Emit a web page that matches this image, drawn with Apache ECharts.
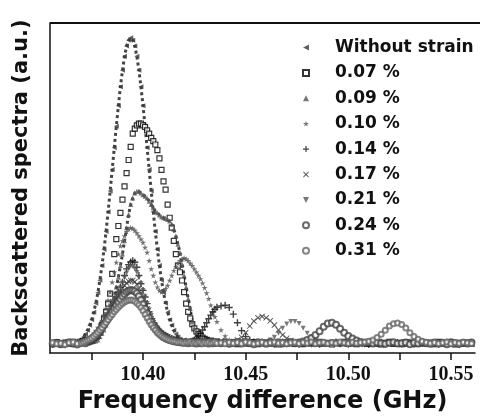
<!DOCTYPE html>
<html><head><meta charset="utf-8">
<script src="https://cdn.jsdelivr.net/npm/echarts@6/dist/echarts.min.js"></script>
<style>html,body{margin:0;padding:0;background:#fff}#c{width:480px;height:419px}</style>
</head><body><div id="c"></div>
<script>
// sampling frequencies (GHz)
const freqs = [
10.356,10.358,10.360,10.362,10.364,10.366,10.368,
10.370,10.371,10.372,10.373,10.374,10.375,10.376,10.377,10.378,10.379,
10.380,10.381,10.382,10.383,10.384,10.385,10.386,10.387,10.388,10.389,
10.390,10.391,10.392,10.393,10.394,10.395,10.396,10.397,10.398,10.399,
10.400,10.401,10.402,10.403,10.404,10.405,10.406,10.407,10.408,10.409,
10.410,10.411,10.412,10.413,10.414,10.415,10.416,10.417,10.418,10.419,
10.420,10.421,10.422,10.423,10.424,10.425,10.426,10.427,10.428,10.429,
10.430,10.431,10.432,10.433,10.434,10.435,10.436,
10.438,10.440,10.442,10.444,10.446,10.448,10.450,10.452,10.454,10.456,
10.458,10.460,10.462,10.464,10.466,10.468,10.470,10.472,10.474,10.476,
10.478,10.480,10.482,10.484,10.486,10.488,10.490,10.492,10.494,10.496,
10.498,10.500,10.502,10.504,10.506,10.508,10.510,10.512,10.514,10.516,
10.518,10.520,10.522,10.524,10.526,10.528,10.530,10.532,10.534,10.536,
10.538,10.540,10.542,10.544,10.546,10.548,10.550,10.552,10.554,10.556,
10.558,10.560];

const seriesNames = ['Without strain','0.07 %','0.09 %','0.10 %','0.14 %','0.17 %','0.21 %','0.24 %','0.31 %'];

const sWithout = [
.030,.026,.034,.028,.032,.027,.031,
.043,.049,.058,.069,.084,.101,.124,.151,.183,.221,
.265,.314,.368,.428,.491,.556,.622,.687,.749,.807,
.857,.899,.930,.948,.955,.948,.930,.899,.857,.807,
.749,.687,.622,.556,.491,.428,.368,.314,.265,.221,
.183,.151,.124,.101,.084,.069,.058,.049,.043,.037,
.033,.030,.028,.031,.026,.029,.032,.027,.030,.025,
.029,.033,.027,.031,.026,.030,.028,
.032,.027,.030,.025,.029,.033,.028,.031,.026,.030,
.027,.032,.029,.025,.031,.028,.033,.026,.030,.027,
.031,.026,.029,.033,.027,.030,.025,.032,.028,.031,
.026,.030,.027,.032,.029,.025,.031,.028,.033,.027,
.030,.026,.031,.028,.032,.027,.029,.025,.031,.028,
.033,.027,.030,.026,.032,.029,.025,.031,.028,.030,
.027,.031];

const s007 = [
.028,.033,.026,.031,.029,.034,.030,
.035,.036,.038,.040,.041,.043,.045,.048,.052,.062,
.085,.105,.125,.150,.180,.240,.300,.345,.385,.425,
.465,.505,.545,.585,.625,.665,.680,.690,.695,.695,
.690,.685,.675,.665,.652,.642,.632,.615,.590,.555,
.520,.495,.450,.410,.380,.340,.300,.265,.245,.220,
.185,.150,.125,.105,.088,.075,.066,.058,.052,.047,
.043,.040,.036,.038,.034,.032,.035,
.030,.034,.028,.032,.027,.031,.035,.029,.033,.027,
.031,.028,.034,.030,.026,.032,.029,.033,.028,.031,
.027,.033,.030,.028,.034,.029,.031,.026,.032,.030,
.034,.028,.031,.027,.033,.030,.028,.032,.029,.026,
.031,.034,.028,.030,.027,.033,.029,.032,.028,.031,
.029,.032,.027,.034,.030,.028,.033,.026,.031,.029,
.032,.028];

const s009 = [
.025,.030,.027,.032,.028,.026,.031,
.029,.031,.030,.033,.032,.034,.035,.037,.040,.050,
.060,.070,.085,.100,.120,.145,.170,.200,.230,.265,
.300,.340,.380,.420,.450,.470,.485,.490,.490,.485,
.480,.475,.470,.460,.450,.440,.430,.425,.418,.413,
.410,.408,.405,.400,.390,.375,.355,.330,.305,.270,
.235,.200,.165,.135,.095,.075,.062,.052,.045,.040,
.036,.033,.030,.028,.031,.027,.029,
.033,.028,.031,.026,.030,.034,.027,.032,.029,.031,
.028,.033,.026,.030,.032,.027,.031,.029,.034,.028,
.030,.027,.032,.029,.026,.031,.033,.028,.030,.027,
.032,.029,.026,.031,.028,.033,.030,.027,.031,.029,
.028,.031,.033,.027,.030,.026,.032,.029,.031,.028,
.030,.033,.028,.031,.027,.030,.032,.028,.029,.031,
.028,.030];

const s010 = [
.031,.027,.029,.033,.026,.030,.028,
.032,.030,.034,.031,.035,.038,.045,.055,.065,.080,
.095,.115,.135,.160,.185,.215,.245,.275,.300,.325,
.340,.355,.368,.376,.380,.378,.372,.364,.355,.345,
.335,.320,.305,.280,.255,.235,.215,.200,.190,.185,
.188,.195,.205,.220,.235,.250,.262,.272,.280,.285,
.288,.285,.280,.272,.265,.255,.245,.235,.225,.212,
.198,.182,.165,.145,.125,.110,.095,
.070,.052,.040,.034,.030,.033,.028,.031,.027,.032,
.029,.031,.027,.033,.030,.028,.032,.026,.031,.029,
.033,.028,.031,.027,.030,.032,.029,.031,.026,.030,
.029,.032,.028,.030,.026,.031,.033,.029,.027,.031,
.032,.027,.030,.033,.029,.031,.028,.026,.032,.030,
.028,.031,.029,.026,.033,.030,.027,.031,.029,.032,
.030,.027];

const s014 = [
.027,.032,.029,.025,.031,.028,.033,
.030,.033,.031,.035,.034,.037,.040,.048,.055,.065,
.075,.085,.095,.110,.125,.140,.155,.170,.185,.200,
.215,.235,.255,.268,.276,.280,.275,.260,.235,.210,
.190,.170,.150,.125,.105,.092,.082,.075,.068,.062,
.058,.054,.050,.047,.044,.042,.040,.038,.036,.035,
.034,.036,.033,.035,.037,.040,.045,.052,.060,.070,
.080,.092,.104,.115,.125,.133,.139,
.143,.145,.138,.118,.092,.068,.050,.040,.034,.031,
.033,.029,.032,.027,.030,.034,.028,.031,.029,.026,
.031,.033,.028,.030,.027,.032,.029,.031,.034,.028,
.030,.027,.033,.029,.031,.028,.026,.032,.030,.033,
.027,.031,.029,.032,.028,.030,.033,.027,.031,.029,
.032,.028,.031,.027,.030,.033,.029,.031,.026,.030,
.029,.032];

const s017 = [
.029,.026,.031,.028,.033,.027,.030,
.032,.029,.034,.031,.036,.040,.046,.052,.060,.070,
.080,.090,.100,.112,.125,.138,.150,.163,.175,.186,
.196,.205,.212,.217,.220,.220,.216,.208,.196,.182,
.166,.150,.134,.118,.104,.092,.082,.073,.066,.060,
.055,.051,.048,.045,.043,.041,.039,.037,.036,.035,
.034,.033,.035,.032,.034,.031,.033,.035,.032,.034,
.032,.035,.031,.034,.030,.033,.035,
.036,.033,.035,.032,.040,.048,.062,.082,.097,.107,
.111,.107,.098,.085,.070,.055,.045,.038,.033,.030,
.032,.028,.031,.034,.029,.027,.033,.030,.028,.032,
.029,.031,.027,.033,.030,.028,.032,.029,.031,.026,
.030,.033,.028,.031,.027,.032,.030,.029,.033,.028,
.031,.029,.032,.028,.030,.027,.033,.031,.028,.030,
.033,.029];

const s021 = [
.030,.027,.032,.028,.026,.031,.029,
.033,.030,.035,.038,.042,.048,.055,.063,.072,.082,
.093,.105,.117,.130,.143,.156,.165,.175,.186,.198,
.212,.228,.243,.256,.263,.262,.255,.244,.228,.210,
.190,.170,.150,.131,.114,.099,.086,.075,.066,.059,
.054,.049,.046,.043,.041,.039,.037,.035,.034,.033,
.032,.034,.031,.033,.035,.030,.032,.034,.031,.033,
.030,.032,.034,.031,.033,.029,.032,
.031,.034,.029,.032,.030,.033,.031,.028,.032,.030,
.033,.035,.040,.048,.060,.075,.088,.096,.096,.090,
.075,.060,.048,.040,.035,.032,.030,.033,.029,.031,
.028,.032,.030,.027,.033,.029,.031,.034,.028,.030,
.032,.029,.027,.031,.033,.030,.028,.032,.029,.031,
.027,.030,.033,.029,.031,.028,.032,.030,.026,.031,
.030,.033];

const s024 = [
.028,.031,.027,.030,.033,.029,.026,
.031,.034,.030,.036,.039,.043,.048,.054,.061,.069,
.077,.086,.095,.105,.115,.125,.135,.145,.155,.164,
.172,.179,.185,.189,.191,.190,.187,.181,.172,.161,
.148,.134,.120,.107,.095,.084,.075,.067,.060,.054,
.049,.045,.042,.040,.038,.036,.035,.034,.033,.032,
.031,.033,.030,.032,.034,.031,.029,.033,.030,.032,
.034,.031,.029,.032,.030,.033,.031,
.030,.033,.028,.031,.034,.029,.032,.030,.027,.033,
.031,.028,.032,.030,.033,.029,.031,.034,.030,.032,
.035,.040,.046,.055,.066,.080,.090,.092,.086,.074,
.062,.052,.044,.038,.034,.031,.033,.029,.032,.030,
.028,.031,.033,.029,.030,.032,.027,.031,.029,.033,
.030,.028,.032,.029,.031,.027,.033,.030,.028,.031,
.029,.032];

const s031 = [
.032,.028,.030,.026,.031,.034,.029,
.030,.033,.036,.039,.042,.046,.051,.057,.063,.070,
.077,.085,.093,.101,.109,.117,.125,.132,.139,.145,
.150,.155,.158,.160,.161,.160,.157,.152,.146,.138,
.128,.117,.106,.096,.086,.077,.069,.062,.056,.051,
.047,.044,.041,.039,.037,.036,.035,.033,.034,.032,
.030,.033,.031,.034,.029,.032,.030,.033,.031,.028,
.032,.030,.033,.029,.031,.034,.030,
.031,.028,.033,.030,.032,.029,.034,.031,.028,.030,
.033,.029,.031,.034,.030,.032,.028,.031,.033,.029,
.032,.030,.034,.028,.031,.033,.029,.032,.030,.034,
.031,.029,.033,.030,.032,.034,.036,.040,.047,.057,
.069,.082,.089,.091,.087,.076,.062,.050,.042,.036,
.033,.030,.032,.029,.031,.034,.028,.032,.030,.033,
.031,.029];

const tickValues = [10.375, 10.40, 10.425, 10.45, 10.475, 10.50, 10.525, 10.55];
const labelValues = [10.40, 10.45, 10.50, 10.55];

const allValues = [sWithout, s007, s009, s010, s014, s017, s021, s024, s031];

const leftTri = 'path://M0,5L10,0L10,10Z';
const upTri = 'path://M5,0L10,10L0,10Z';
const downTri = 'path://M0,0L10,0L5,10Z';
const starPath = 'path://M50,0L61,35L98,35L68,57L79,91L50,70L21,91L32,57L2,35L39,35Z';
const plusPath = 'path://M4,0H6V4H10V6H6V10H4V6H0V4H4Z';
const crossPath = 'path://M1,0L5,3.6L9,0L10,1L6.4,5L10,9L9,10L5,6.4L1,10L0,9L3.6,5L0,1Z';

const styles = [
  {symbol:leftTri, size:5, item:{color:'#3a3a3a'}},
  {symbol:'rect', size:5, item:{color:'#fff', borderColor:'#000', borderWidth:1.2}},
  {symbol:upTri, size:5, item:{color:'#555'}},
  {symbol:starPath, size:6, item:{color:'#505050'}},
  {symbol:plusPath, size:7, item:{color:'#111'}},
  {symbol:crossPath, size:6, item:{color:'#333'}},
  {symbol:downTri, size:5, item:{color:'#555'}},
  {symbol:'emptyCircle', size:6, item:{color:'#444', borderWidth:1.2}},
  {symbol:'emptyCircle', size:5, item:{color:'#666', borderWidth:1.2}}
];

function pairs(vals){ return freqs.map((f,i)=>[f, vals[i]]); }

const series = [];
// dotted guide curves under the two dense series
[0,2].forEach(k=>{
  series.push({type:'line', name:'guide'+k, data:pairs(allValues[k]), showSymbol:false, silent:true,
    lineStyle:{type:'dotted', width:3, color:'#444'}, z:1, animation:false});
});
allValues.forEach((vals,k)=>{
  const st = styles[k];
  series.push({type:'scatter', name:seriesNames[k], data:pairs(vals), symbol:st.symbol,
    symbolSize:st.size, itemStyle:st.item, z:2+k, animation:false});
});

const chart = echarts.init(document.getElementById('c'), null, {renderer:'canvas'});
chart.setOption({
  animation:false,
  backgroundColor:'#fff',
  grid:{left:50, right:5, top:23, bottom:64, containLabel:false},
  xAxis:{type:'value', min:10.3547, max:10.5617,
    name:'Frequency difference (GHz)', nameLocation:'middle', nameGap:36,
    nameTextStyle:{fontFamily:'DejaVu Sans', fontWeight:'bold', fontSize:24, color:'#111'},
    axisLine:{show:true, lineStyle:{color:'#111', width:1.5}},
    axisTick:{show:true, inside:false, length:7, customValues:tickValues, lineStyle:{color:'#111', width:1.5}},
    axisLabel:{show:true, customValues:labelValues, margin:12, formatter:v=>v.toFixed(2),
      fontFamily:'Liberation Serif', fontWeight:'bold', fontSize:20, color:'#111'},
    splitLine:{show:false}},
  yAxis:{type:'value', min:0, max:1,
    name:'Backscattered spectra (a.u.)', nameLocation:'middle', nameGap:18,
    nameTextStyle:{fontFamily:'DejaVu Sans', fontWeight:'bold', fontSize:21, color:'#111'},
    axisLine:{show:true, lineStyle:{color:'#111', width:1.5}},
    axisTick:{show:false}, axisLabel:{show:false}, splitLine:{show:false}},
  legend:{orient:'vertical', left:297, top:34, itemWidth:6, itemHeight:6, itemGap:8.4,
    data:seriesNames,
    textStyle:{fontFamily:'DejaVu Sans', fontWeight:'bold', fontSize:17, lineHeight:17, color:'#111', padding:[0,0,0,21]}},
  graphic:[{type:'line', shape:{x1:50, y1:23, x2:480, y2:23}, style:{stroke:'#111', lineWidth:2}, silent:true}],
  series:series
});
</script>
</body></html>
